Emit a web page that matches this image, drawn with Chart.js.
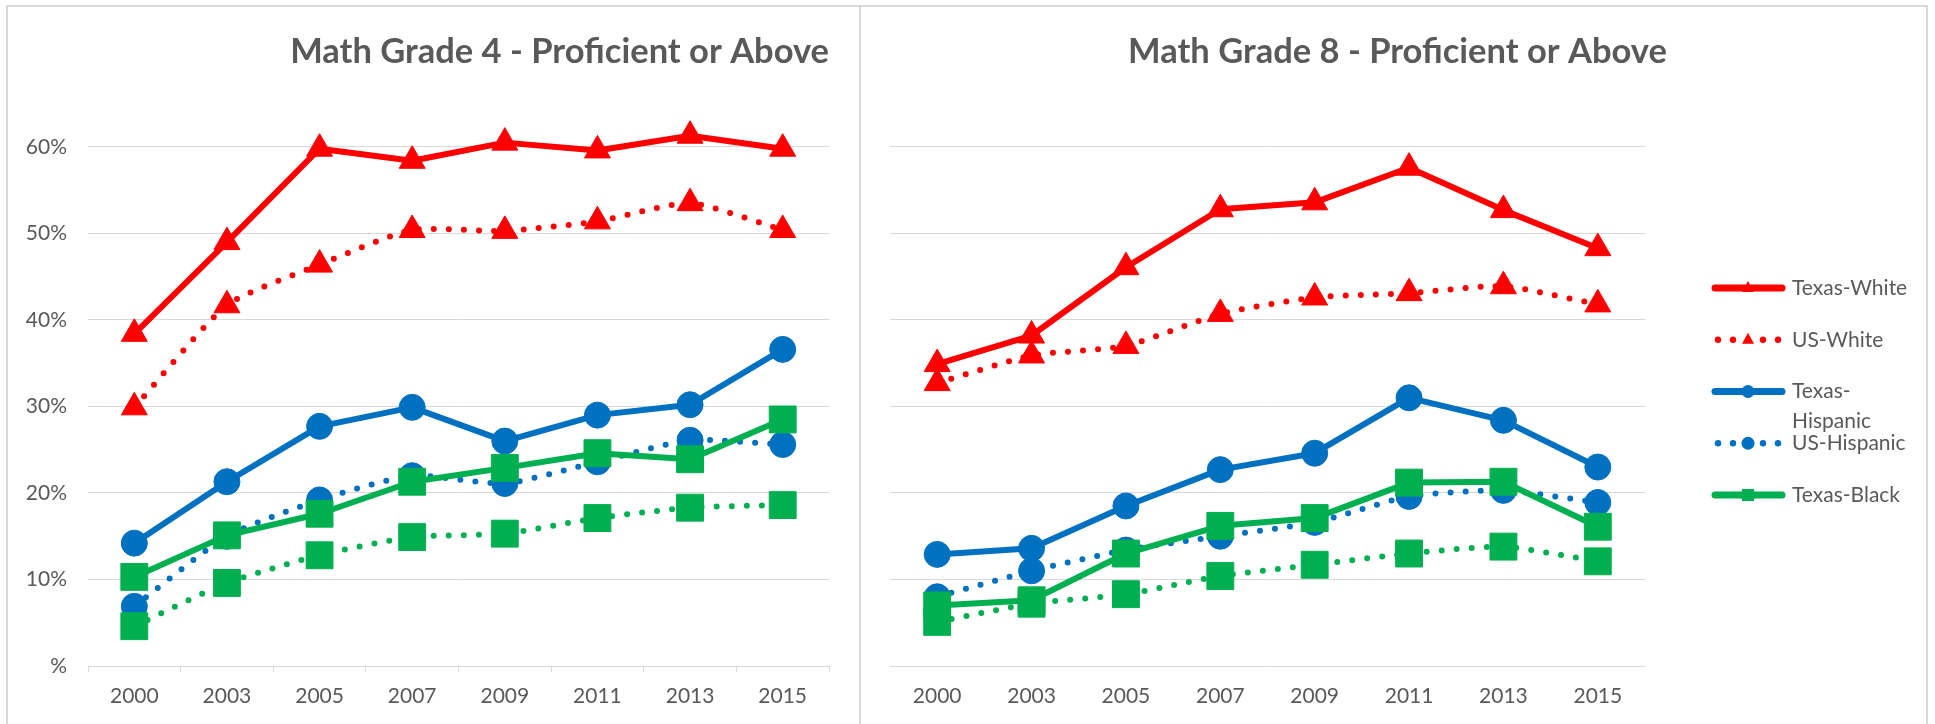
<!DOCTYPE html>
<html>
<head>
<meta charset="utf-8">
<script src="https://cdn.jsdelivr.net/npm/chart.js@4.4.1/dist/chart.umd.min.js"></script>
<style>
    html, body { margin: 0; padding: 0; background: #fff; }
    body { width: 1935px; height: 724px; position: relative; overflow: hidden; }
    .frame { position: absolute; border: 0 solid #d9d9d9; pointer-events: none; }
    #left { position: absolute; left: 0; top: 0; width: 860px; height: 724px; }
    #right { position: absolute; left: 860px; top: 0; width: 1075px; height: 724px; }
</style>
</head>
<body>
<div id="left"><canvas id="chartGrade4"></canvas></div>
<div id="right"><canvas id="chartGrade8"></canvas></div>
<div class="frame" style="left:6px;top:5px;width:1918px;height:730px;border-width:2px 2px 0 2px;"></div>
<div class="frame" style="left:859px;top:5px;width:0;height:730px;border-left-width:2px;"></div>
<script>
// Tahun ujian (sumbu x)
const years = ['2000', '2003', '2005', '2007', '2009', '2011', '2013', '2015'];
const seriesNames = ['Texas-White', 'US-White', 'Texas-Hispanic', 'US-Hispanic', 'Texas-Black', 'US-Black'];
const yTickValues = [0, 10, 20, 30, 40, 50, 60];

// Math Grade 4 - persen Proficient or Above
const g4TexasWhite    = [38.4, 49.0, 59.8, 58.4, 60.5, 59.6, 61.3, 59.8];
const g4USWhite       = [29.9, 41.7, 46.4, 50.4, 50.3, 51.4, 53.5, 50.4];
const g4TexasHispanic = [14.2, 21.3, 27.7, 29.9, 26.0, 29.0, 30.2, 36.6];
const g4USHispanic    = [6.9, 15.0, 19.2, 22.0, 21.1, 23.6, 26.1, 25.6];
const g4TexasBlack    = [10.3, 15.1, 17.6, 21.3, 22.9, 24.6, 23.9, 28.5];
const g4USBlack       = [4.6, 9.6, 12.8, 14.9, 15.3, 17.1, 18.3, 18.6];

// Math Grade 8 - persen Proficient or Above
const g8TexasWhite    = [34.9, 38.2, 46.1, 52.8, 53.6, 57.6, 52.7, 48.3];
const g8USWhite       = [32.7, 35.9, 37.0, 40.7, 42.6, 43.1, 43.9, 41.8];
const g8TexasHispanic = [12.9, 13.6, 18.5, 22.7, 24.6, 31.0, 28.4, 23.0];
const g8USHispanic    = [8.0, 11.0, 13.4, 15.0, 16.6, 19.6, 20.3, 18.9];
const g8TexasBlack    = [7.0, 7.6, 13.0, 16.2, 17.1, 21.2, 21.3, 16.1];
const g8USBlack       = [5.1, 7.2, 8.3, 10.4, 11.7, 13.0, 13.8, 12.1];

// Gaya tiap seri (warna, garis putus, bentuk titik)
const RED = '#FF0000', BLUE = '#0070C0', GREEN = '#00B050';
const seriesStyle = [
    { color: RED,   dotted: false, point: 'triangle', radius: 15 },
    { color: RED,   dotted: true,  point: 'triangle', radius: 15 },
    { color: BLUE,  dotted: false, point: 'circle',   radius: 13 },
    { color: BLUE,  dotted: true,  point: 'circle',   radius: 13 },
    { color: GREEN, dotted: false, point: 'rect',     radius: 19 },
    { color: GREEN, dotted: true,  point: 'rect',     radius: 19 }
];
const legendLabels = ['Texas-White', 'US-White', ['Texas-', 'Hispanic'], 'US-Hispanic', 'Texas-Black'];

const TEXT_GREY = '#595959';
const GRID_GREY = '#d9d9d9';
const FONT = 'Lato';

function makeDatasets(seriesValues) {
    return seriesValues.map((values, i) => {
        const st = seriesStyle[i];
        return {
            label: seriesNames[i],
            data: values,
            order: seriesValues.length - i,
            borderColor: st.color,
            backgroundColor: st.color,
            borderWidth: 6,
            borderDash: st.dotted ? [0, 15] : [],
            borderCapStyle: 'round',
            borderJoinStyle: 'round',
            tension: st.dotted ? 0.2 : 0,
            pointStyle: st.point,
            pointRadius: st.radius,
            pointHoverRadius: st.radius,
            pointBackgroundColor: st.color,
            pointBorderColor: st.color,
            pointBorderWidth: 1,
            clip: false
        };
    });
}

// Legenda di sisi kanan grafik kelas 8
const sideLegend = {
    id: 'sideLegend',
    afterDraw(chart) {
        const ctx = chart.ctx;
        const area = chart.chartArea;
        const cx = area.right + 103;
        const textX = area.right + 147;
        ctx.save();
        legendLabels.forEach((label, i) => {
            const st = seriesStyle[i];
            const y = 288 + i * 51.75;
            ctx.strokeStyle = st.color;
            ctx.fillStyle = st.color;
            ctx.lineCap = 'round';
            if (st.dotted) {
                [-30, -15, 15, 30].forEach(dx => {
                    ctx.beginPath();
                    ctx.arc(cx + dx, y, 3.2, 0, Math.PI * 2);
                    ctx.fill();
                });
            } else {
                ctx.lineWidth = 7;
                ctx.beginPath();
                ctx.moveTo(cx - 33, y);
                ctx.lineTo(cx + 34, y);
                ctx.stroke();
            }
            ctx.beginPath();
            if (st.point === 'triangle') {
                ctx.moveTo(cx, y - 7);
                ctx.lineTo(cx + 6, y + 4);
                ctx.lineTo(cx - 6, y + 4);
                ctx.closePath();
            } else if (st.point === 'circle') {
                ctx.arc(cx, y, 6.5, 0, Math.PI * 2);
            } else {
                ctx.rect(cx - 6, y - 6, 12, 12);
            }
            ctx.fill();

            ctx.fillStyle = TEXT_GREY;
            ctx.font = '21px ' + FONT;
            ctx.textBaseline = 'middle';
            ctx.textAlign = 'left';
            const lines = Array.isArray(label) ? label : [label];
            lines.forEach((line, k) => ctx.fillText(line, textX, y + k * 30));
        });
        ctx.restore();
    }
};

function makeChart(canvasId, title, seriesValues, isLeft) {
    const ctx = document.getElementById(canvasId).getContext('2d');
    const scales = {
        x: {
            offset: true,
            grid: {
                display: isLeft,
                drawOnChartArea: false,
                drawTicks: isLeft,
                tickLength: 6,
                color: GRID_GREY,
                offset: true
            },
            border: { display: isLeft, color: GRID_GREY },
            ticks: {
                color: TEXT_GREY,
                font: { family: FONT, size: 21 },
                padding: isLeft ? 12 : 18,
                maxRotation: 0,
                autoSkip: false
            },
            afterFit: scale => { scale.height = 58; }
        },
        y: {
            min: 0,
            max: 67,
            grid: { color: GRID_GREY, drawTicks: false },
            border: { display: false },
            ticks: {
                display: isLeft,
                stepSize: 10,
                includeBounds: false,
                padding: 21,
                color: TEXT_GREY,
                font: { family: FONT, size: 21 },
                callback: value => yTickValues.includes(value) ? (value === 0 ? '%' : value + '%') : ''
            },
            afterFit: scale => { scale.width = isLeft ? 88 : 30; }
        }
    };
    if (!isLeft) {
        // ruang kosong untuk legenda
        scales.legendSpace = {
            type: 'linear',
            position: 'right',
            grid: { display: false },
            border: { display: false },
            ticks: { display: false },
            afterFit: scale => { scale.width = 290; }
        };
    }

    return new Chart(ctx, {
        type: 'line',
        data: {
            labels: years,
            datasets: makeDatasets(seriesValues)
        },
        options: {
            responsive: true,
            maintainAspectRatio: false,
            animation: false,
            layout: { padding: { left: 0, right: isLeft ? 31 : 0, top: 0, bottom: 0 } },
            scales: scales,
            plugins: {
                legend: { display: false },
                tooltip: { enabled: false },
                title: {
                    display: true,
                    text: title,
                    align: isLeft ? 'end' : 'center',
                    color: TEXT_GREY,
                    font: { family: FONT, size: 34.5, weight: 'bold' },
                    padding: { top: 31, bottom: 14 }
                }
            }
        },
        plugins: isLeft ? [] : [sideLegend]
    });
}

document.addEventListener('DOMContentLoaded', function() {
    makeChart('chartGrade4', 'Math Grade 4 - Proficient or Above',
        [g4TexasWhite, g4USWhite, g4TexasHispanic, g4USHispanic, g4TexasBlack, g4USBlack], true);
    makeChart('chartGrade8', 'Math Grade 8 - Proficient or Above',
        [g8TexasWhite, g8USWhite, g8TexasHispanic, g8USHispanic, g8TexasBlack, g8USBlack], false);
});
</script>
</body>
</html>
